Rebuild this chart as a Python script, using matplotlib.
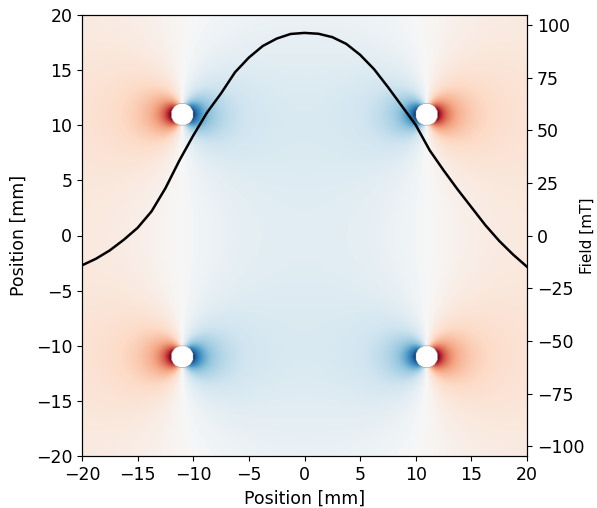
import numpy as np
import matplotlib
matplotlib.use('Agg')
from matplotlib import pyplot as plt

# Drähte (Position in mm, Stromrichtung)
wire_x = [11, 11, -11, -11]
wire_y = [11, -11, 11, -11]
wire_current = [1, 1, -1, -1]
wire_radius = 1.0
field_scale = 529  # mT*mm

# Feld auf der Achse
curve_x = [-20, -18.75, -17.5, -16.25, -15, -13.75, -12.5, -11.25, -10, -8.75, -7.5,
           -6.25, -5, -3.75, -2.5, -1.25, 0, 1.25, 2.5, 3.75, 5, 6.25, 7.5, 8.75,
           10, 11.25, 12.5, 13.75, 15, 16.25, 17.5, 18.75, 20]
curve_field = [-14.1, -11, -7, -2, 3.7, 11.5, 22.5, 35.6, 47.5, 58.5, 67.5,
               77.5, 84.5, 90, 93.5, 95.7, 96.2, 95.8, 94.2, 91, 85.8, 79, 70.5, 61.5,
               52.5, 40.5, 31, 22, 13.5, 5, -2.5, -9, -14.8]

ticks_mm = [-20, -15, -10, -5, 0, 5, 10, 15, 20]
ticks_mT = [-100, -75, -50, -25, 0, 25, 50, 75, 100]

plt.rcParams['font.size'] = 12.5

# Feldkarte (By) der vier Drähte
grid = np.linspace(-20, 20, 801)
X, Y = np.meshgrid(grid, grid)
By = np.zeros_like(X)
inside = np.zeros(X.shape, dtype=bool)
with np.errstate(divide='ignore', invalid='ignore'):
    for x0, y0, cur in zip(wire_x, wire_y, wire_current):
        r2 = (X - x0)**2 + (Y - y0)**2
        By += field_scale * cur * (X - x0) / r2
        inside |= r2 < wire_radius**2
By = np.ma.masked_where(inside, By)

fig = plt.figure(figsize=(5.97, 5.08), dpi=100)
ax = fig.add_axes([82/597, 1 - 456/508, 445/597, 441/508])
ax.imshow(By, extent=[-20, 20, -20, 20], origin='lower', cmap='RdBu_r',
          aspect='auto', interpolation='bilinear')
ax.set_xticks(ticks_mm)
ax.set_yticks(ticks_mm)
ax.set_xlabel('Position [mm]')
ax.set_ylabel('Position [mm]', labelpad=6)

ax2 = ax.twinx()
ax2.plot(curve_x, curve_field, color='black', lw=1.8)
ax2.set_xlim(-20, 20)
ax2.set_ylim(-104.6, 104.7)
ax2.set_yticks(ticks_mT)
ax2.set_ylabel('Field [mT]', fontsize=11, labelpad=-3)

fig.savefig('out.png', dpi=100)
